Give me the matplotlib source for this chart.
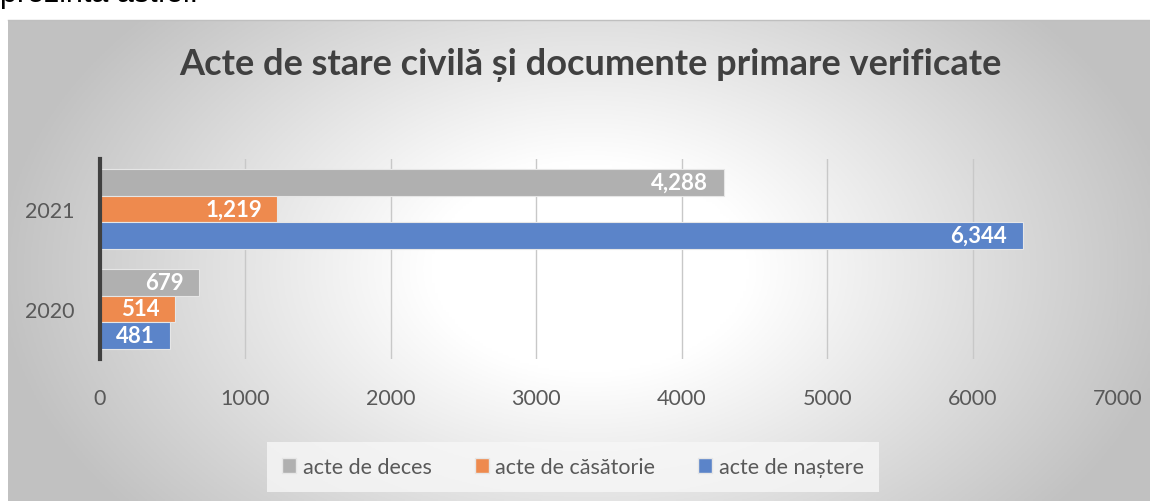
import matplotlib
matplotlib.use('Agg')
import matplotlib.pyplot as plt
from matplotlib.patches import Patch
import numpy as np

plt.rcParams['font.family'] = ['Lato', 'DejaVu Sans']

# date
years = ['2020', '2021']
series_names = ['acte de deces', 'acte de căsătorie', 'acte de naștere']
deces = [679, 4288]
casatorie = [514, 1219]
nastere = [481, 6344]
colors = ['#b0b0b0', '#ee8a4e', '#5b84c9']
xticks = [0, 1000, 2000, 3000, 4000, 5000, 6000, 7000]

W, H = 1150, 502
fig = plt.figure(figsize=(W / 100, H / 100), dpi=100)
fig.patch.set_facecolor('white')

# textul taiat de deasupra graficului
fig.text(0.0, 1 - 2 / H, 'prezintă astfel:', fontsize=22, color='black',
         ha='left', va='baseline', family=['Liberation Sans'])

# fundal cu gradient radial
bg = fig.add_axes([8 / W, 0, 1 - 8 / W, (H - 21) / H])
nx, ny = 400, 200
gx, gy = np.meshgrid(np.linspace(8, W, nx), np.linspace(21, H, ny))
r = np.sqrt(((gx - 590) / 640) ** 2 + ((gy - 270) / 420) ** 2)
val = 1.0 - 0.25 * np.clip(r - 0.25, 0, None) / 0.7
val = np.clip(val, 0.76, 1.0)
bg.imshow(np.dstack([val, val, val]), aspect='auto', extent=[0, 1, 0, 1], origin='upper')
bg.set_xlim(0, 1)
bg.set_ylim(0, 1)
bg.axis('off')
fig.add_artist(plt.Line2D([8 / W, 1], [1 - 21 / H, 1 - 21 / H], transform=fig.transFigure,
                          color='#bfbfbf', lw=1))

ax = fig.add_axes([100 / W, 1 - 360 / H, (1118 - 100) / W, 200 / H])
ax.patch.set_alpha(0)

y = np.arange(len(years))
h = 0.267
series = [deces, casatorie, nastere]
offsets = [h, 0, -h]
for vals, off, c, name in zip(series, offsets, colors, series_names):
    ax.barh(y + off, vals, height=h, color=c, edgecolor='#e6e6e6', linewidth=0.8,
            label=name, zorder=3)
    for v, yy in zip(vals, y + off):
        ax.annotate(f'{v:,}', (v, yy), xytext=(-11, 0), textcoords='offset points',
                    ha='right', va='center', color='white', fontsize=16,
                    fontweight='bold', zorder=4)

ax.set_xlim(0, 7000)
ax.set_ylim(-0.5, 1.5)
ax.set_xticks(xticks)
ax.set_xticklabels([str(t) for t in xticks])
ax.set_yticks(y)
ax.set_yticklabels(years)
ax.tick_params(axis='both', length=0, labelsize=15.5, labelcolor='#595959')
ax.tick_params(axis='x', pad=21)
ax.tick_params(axis='y', pad=18)
ax.grid(True, axis='x', color='#c8c8c8', linewidth=1, zorder=0)
for s in ['top', 'right', 'bottom']:
    ax.spines[s].set_visible(False)
ax.spines['left'].set_color('#404040')
ax.spines['left'].set_linewidth(3)
ax.spines['left'].set_zorder(5)

fig.text(590 / W, 1 - 65 / H, 'Acte de stare civilă și documente primare verificate',
         ha='center', va='center', fontsize=26, fontweight='bold', color='#404040')

handles = [Patch(facecolor=c, edgecolor='#e6e6e6', label=n) for c, n in zip(colors, series_names)]
leg = fig.legend(handles=handles, loc='center', bbox_to_anchor=(573 / W, 1 - 468 / H), ncol=3,
                 frameon=True, fontsize=15.5, handlelength=0.65, handleheight=0.65,
                 handletextpad=0.3, columnspacing=2.0, borderpad=0.7, labelcolor='#595959')
leg.get_frame().set_facecolor('#f7f7f7')
leg.get_frame().set_edgecolor('none')
leg.get_frame().set_alpha(0.8)
leg.get_frame().set_boxstyle('square', pad=0)

fig.savefig('out.png', dpi=100)
